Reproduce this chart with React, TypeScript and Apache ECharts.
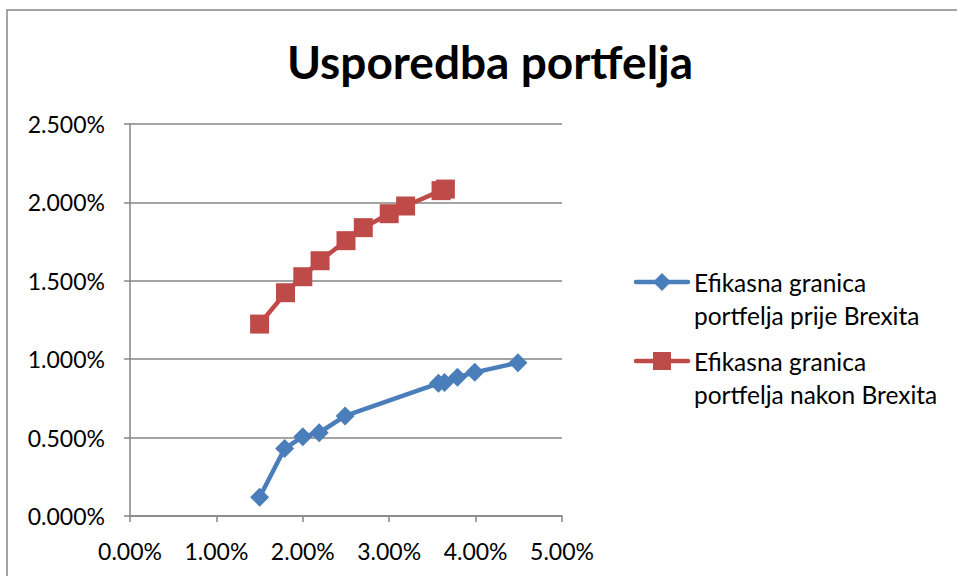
import React, { useEffect, useRef } from "react";
import * as echarts from "echarts";

const titleText = "Usporedba portfelja";
const seriesNames = ["Efikasna granica\nportfelja prije Brexita", "Efikasna granica\nportfelja nakon Brexita"];
const xBefore = [1.5, 1.79, 2.0, 2.19, 2.49, 3.57, 3.64, 3.79, 3.99, 4.49];
const yBefore = [0.12, 0.43, 0.506, 0.531, 0.638, 0.846, 0.851, 0.885, 0.916, 0.978];
const xAfter = [1.5, 1.8, 2.0, 2.2, 2.5, 2.7, 3.0, 3.19, 3.6, 3.65];
const yAfter = [1.224, 1.424, 1.526, 1.628, 1.756, 1.839, 1.928, 1.977, 2.075, 2.085];
const colors = ["#4A7EBB", "#BE4B48"];

const FONT = "Lato";

export default function App() {
  const ref = useRef<HTMLDivElement>(null);
  useEffect(() => {
    if (!ref.current) return;
    const chart = echarts.init(ref.current, null, { renderer: "svg" });
    const before = xBefore.map((x, i) => [x, yBefore[i]]);
    const after = xAfter.map((x, i) => [x, yAfter[i]]);
    const legendItem = (i: number, y: number, symbol: any) => ({
      type: "group",
      children: [
        { type: "line", shape: { x1: 636, y1: y, x2: 688, y2: y }, style: { stroke: colors[i], lineWidth: 4.5, lineCap: "round" } },
        symbol,
        {
          type: "text",
          x: 694,
          y: y - 16,
          style: { text: seriesNames[i], font: `24.5px ${FONT}`, fill: "#000", lineHeight: 33, verticalAlign: "top" },
        },
      ],
    });
    chart.setOption({
      animation: false,
      backgroundColor: "#fff",
      title: {
        text: titleText,
        left: 485,
        top: 33,
        textAlign: "center",
        textStyle: { fontFamily: FONT, fontWeight: "bold", fontSize: 46, color: "#000" },
      },
      grid: { left: 130, right: 395, top: 124, bottom: 60, containLabel: false },
      xAxis: {
        type: "value",
        min: 0,
        max: 5,
        interval: 1,
        axisLine: { show: true, lineStyle: { color: "#868686", width: 1.5 } },
        axisTick: { show: true, length: 6, lineStyle: { color: "#868686", width: 1.5 } },
        splitLine: { show: false },
        axisLabel: { margin: 23, fontFamily: FONT, fontSize: 23, color: "#000", formatter: (v: number) => v.toFixed(2) + "%" },
      },
      yAxis: {
        type: "value",
        min: 0,
        max: 2.5,
        interval: 0.5,
        axisLine: { show: true, lineStyle: { color: "#868686", width: 1.5 } },
        axisTick: { show: true, length: 6, lineStyle: { color: "#868686", width: 1.5 } },
        splitLine: { show: true, lineStyle: { color: "#868686", width: 1.5 } },
        axisLabel: { margin: 25, fontFamily: FONT, fontSize: 23, color: "#000", formatter: (v: number) => v.toFixed(3) + "%" },
      },
      series: [
        {
          name: seriesNames[0],
          type: "line",
          data: before,
          symbol: "diamond",
          symbolSize: 19,
          lineStyle: { color: colors[0], width: 4.5 },
          itemStyle: { color: colors[0] },
        },
        {
          name: seriesNames[1],
          type: "line",
          data: after,
          symbol: "rect",
          symbolSize: 19,
          lineStyle: { color: colors[1], width: 4.5 },
          itemStyle: { color: colors[1] },
        },
      ],
      graphic: [
        { type: "rect", shape: { x: 7, y: 10, width: 1000, height: 700 }, style: { fill: "none", stroke: "#868686", lineWidth: 1.5 }, z: -1 },
        legendItem(0, 282, { type: "polygon", shape: { points: [[662, 273], [671, 282], [662, 291], [653, 282]] }, style: { fill: colors[0] } }),
        legendItem(1, 361, { type: "rect", shape: { x: 653, y: 352, width: 18, height: 18 }, style: { fill: colors[1] } }),
      ],
    });
    return () => chart.dispose();
  }, []);
  return <div ref={ref} style={{ width: 957, height: 576, position: "absolute", left: 0, top: 0 }} />;
}
